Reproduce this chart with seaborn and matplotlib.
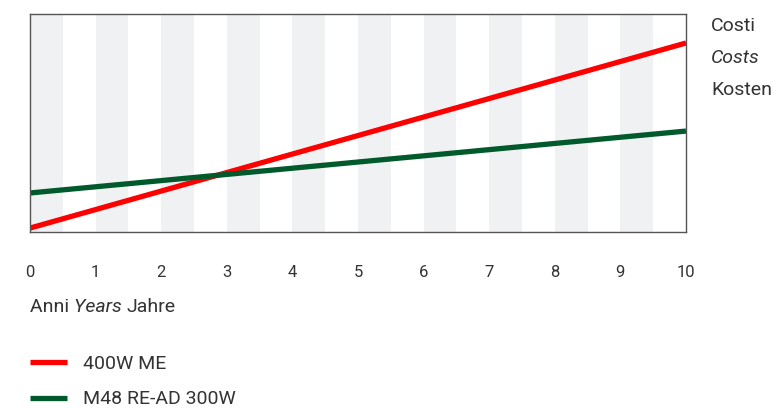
import matplotlib
matplotlib.use("Agg")
import matplotlib.pyplot as plt
import seaborn as sns
import pandas as pd

years = [0, 10]
series_names = ["400W ME", "M48 RE-AD 300W"]
cost_400w = [1.8, 86.7]
cost_m48 = [17.9, 46.3]
colors = ["#ff0000", "#005a2b"]
tick_labels = [str(i) for i in range(11)]

sns.set_theme(style="white")
plt.rcParams['font.family'] = ['Roboto', 'DejaVu Sans']

df = pd.DataFrame({
    "year": years * 2,
    "cost": cost_400w + cost_m48,
    "series": [series_names[0]] * 2 + [series_names[1]] * 2,
})

fig = plt.figure(figsize=(7.74, 4.09), dpi=100)
ax = fig.add_axes([30/774, 1-232/409, (686-30)/774, (232-14)/409])

for i in range(10):
    ax.axvspan(i, i + 0.5, color="#f0f1f3", lw=0, zorder=0)

sns.lineplot(data=df, x="year", y="cost", hue="series", palette=colors,
             linewidth=3.8, ax=ax, legend=True, solid_capstyle="butt")

ax.set_xlim(0, 10)
ax.set_ylim(0, 100)
ax.set_xticks(range(11))
ax.set_xticklabels(tick_labels, fontsize=12, color="#333333")
ax.set_yticks([])
ax.tick_params(axis="x", length=0, pad=23.5)
ax.set_xlabel("")
ax.set_ylabel("")
for s in ax.spines.values():
    s.set_color("#555555")
    s.set_linewidth(1.0)

txtc = "#333333"
fs = 14
t1 = fig.text(30/774, 1-312/409, "Anni ", fontsize=fs, color=txtc, va="baseline", ha="left")
t2 = ax.annotate("Years ", xy=(1, 0), xycoords=t1, fontsize=fs, color=txtc,
                 va="bottom", ha="left", style="italic", annotation_clip=False)
t3 = ax.annotate("Jahre", xy=(1, 0), xycoords=t2, fontsize=fs, color=txtc,
                 va="bottom", ha="left", annotation_clip=False)

fig.text(711/774, 1-31/409, "Costi", fontsize=fs, color=txtc, va="baseline", ha="left")
fig.text(711/774, 1-63/409, "Costs", fontsize=fs, color=txtc, va="baseline", ha="left", style="italic")
fig.text(711/774, 1-95/409, "Kosten", fontsize=fs, color=txtc, va="baseline", ha="left")

handles, labels = ax.get_legend_handles_labels()
leg = ax.legend(handles, labels, loc="upper left", bbox_to_anchor=(30/774, 1-355/409),
                bbox_transform=fig.transFigure, frameon=False, fontsize=fs,
                handlelength=1.9, handletextpad=0.85, labelspacing=0.9,
                borderaxespad=0, borderpad=0)
for t in leg.get_texts():
    t.set_color(txtc)

fig.savefig("out.png", dpi=100)
